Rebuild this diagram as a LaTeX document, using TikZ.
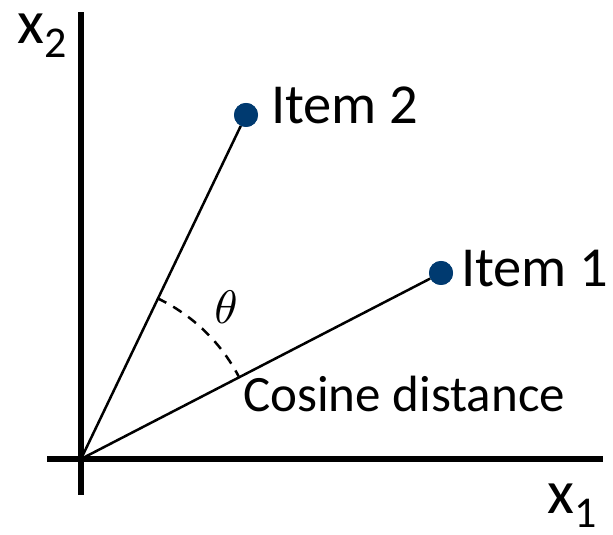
\documentclass[tikz,border=0pt]{standalone}
\usepackage{fontspec}
\setmainfont{Carlito}
\usetikzlibrary{calc}
\definecolor{itemblue}{RGB}{0,58,112}
\newcommand{\axsub}[1]{\raisebox{-14pt}{\fontsize{44}{44}\selectfont #1}}
\tikzset{
  axis/.style={
    line width=6pt,
    draw=black
  },
  ray/.style={
    line width=2.5pt,
    draw=black
  },
  dot/.style={
    circle,
    fill=itemblue,
    inner sep=0pt,
    minimum size=24pt
  },
  itemlabel/.style={
    anchor=base west,
    inner sep=0pt,
    font=\fontsize{56.5}{60}\selectfont
  },
  axislabel/.style={
    anchor=base west,
    inner sep=0pt,
    font=\fontsize{62}{70}\selectfont
  },
  anglearc/.style={
    line width=2.5pt,
    dash pattern=on 10pt off 8pt
  }
}

\begin{document}
\begin{tikzpicture}[x=1pt,y=1pt]
  \useasboundingbox (0,0) rectangle (613,535);

  % axes
  \coordinate (orig) at (81,76);
  \coordinate (xend) at (603,76);
  \coordinate (xbeg) at (47,76);
  \coordinate (yend) at (81,523);
  \coordinate (ybeg) at (81,40);
  \draw[axis] (xbeg) -- (xend);
  \draw[axis] (ybeg) -- (yend);
  \node[axislabel] (xonelbl) at (547,21) {x\axsub{1}};
  \node[axislabel] (xtwolbl) at (17,491) {x\axsub{2}};

  % the two items
  \node[dot] (itemtwo) at (246,420) {};
  \node[dot] (itemone) at (441,262) {};
  \draw[ray] (orig) -- (itemtwo);
  \draw[ray] (orig) -- (itemone);
  \node[dot] at (itemtwo) {};
  \node[dot] at (itemone) {};
  \node[itemlabel] (twolbl) at (271,411) {Item 2};
  \node[itemlabel] (onelbl) at (461,248) {Item 1};

  % angle between them
  \draw[anglearc] ($(orig)+(64.6:178)$) arc[start angle=64.6, end angle=27.7, radius=178];
  \node (theta) at (226,228) {\scalebox{4.7}{$\theta$}};
  \node[itemlabel, font=\fontsize{51}{56}\selectfont] (cosine) at (243,123) {Cosine distance};
\end{tikzpicture}
\end{document}
